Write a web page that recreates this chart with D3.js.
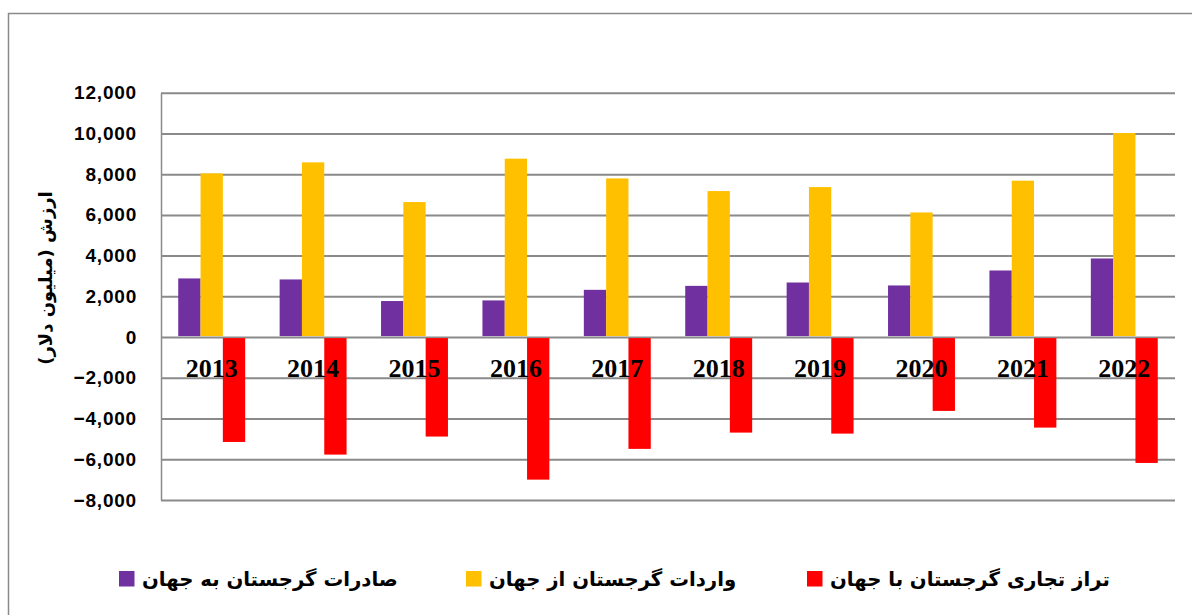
<!DOCTYPE html>
<html>
<head>
<meta charset="utf-8">
<script src="https://cdn.jsdelivr.net/npm/d3@7"></script>
<style>
  body { margin: 0; background: #fff; }
  svg { display: block; }
</style>
</head>
<body>
<div id="chart"></div>
<script>
// data (million dollars)
var years = ["2013", "2014", "2015", "2016", "2017", "2018", "2019", "2020", "2021", "2022"];
var exports_world = [2880, 2830, 1770, 1800, 2320, 2515, 2680, 2535, 3270, 3860];
var imports_world = [8040, 8580, 6630, 8760, 7790, 7170, 7365, 6120, 7680, 10020];
var balance_world = [-5150, -5770, -4885, -7000, -5490, -4690, -4740, -3625, -4445, -6180];
var y_ticks = [-8000, -6000, -4000, -2000, 0, 2000, 4000, 6000, 8000, 10000, 12000];

var series_names = ["صادرات گرجستان به جهان", "واردات گرجستان از جهان", "تراز تجاری گرجستان با جهان"];
var series_colors = ["#7030A0", "#FFC000", "#FF0000"];
var y_title = "ارزش (میلیون  دلار)";

var W = 1192, H = 615;
var margins = {left: 161, right: 17, top: 92.7, bottom: 115};
var width = W - margins.left - margins.right;
var height = H - margins.top - margins.bottom;

var svg = d3.select("#chart").append("svg")
    .attr("width", W)
    .attr("height", H);

// outer frame (only top and left are visible)
svg.append("path")
    .attr("d", "M8.5,620 V13.5 H1200")
    .attr("fill", "none")
    .attr("stroke", "#8a8a8a")
    .attr("stroke-width", 1.5);

var chart = svg.append("g")
    .attr("transform", `translate(${margins.left},${margins.top})`);

var x_scale = d3.scaleBand()
    .domain(years)
    .range([0, width])
    .paddingInner(0.34)
    .paddingOuter(0.17);

var x_inner = d3.scaleBand()
    .domain(d3.range(3))
    .range([0, x_scale.bandwidth()]);

var y_scale = d3.scaleLinear()
    .domain([-8000, 12000])
    .range([height, 0]);

// grid + y axis
var y_axis = chart.append("g")
    .call(d3.axisLeft(y_scale)
        .tickValues(y_ticks)
        .tickSizeInner(-width)
        .tickSizeOuter(0)
        .tickPadding(24)
        .tickFormat(d3.format(",")));

y_axis.select(".domain").attr("stroke", "#8a8a8a").attr("stroke-width", 1.5);
y_axis.selectAll(".tick line").attr("stroke", "#8a8a8a").attr("stroke-width", 2);
y_axis.selectAll(".tick text")
    .attr("fill", "#000")
    .style("font-family", "'Liberation Sans', Arial, sans-serif")
    .style("font-weight", "bold")
    .style("font-size", "19px")
    .style("letter-spacing", "0.8px");

// bars
var rows = years.map(function(y, i) {
    return [exports_world[i], imports_world[i], balance_world[i]];
});

var groups = chart.selectAll(".year")
    .data(years)
    .join("g")
    .attr("class", "year")
    .attr("transform", function(d) { return `translate(${x_scale(d)},0)`; });

groups.selectAll("rect")
    .data(function(d, i) { return rows[i].map(function(v, k) { return {k: k, v: v}; }); })
    .join("rect")
    .attr("x", function(d) { return x_inner(d.k); })
    .attr("width", x_inner.bandwidth())
    .attr("y", function(d) { return d.v >= 0 ? y_scale(d.v) : y_scale(0) + 1; })
    .attr("height", function(d) { return d.v >= 0 ? y_scale(0) - y_scale(d.v) - 1 : y_scale(d.v) - y_scale(0) - 1; })
    .attr("fill", function(d) { return series_colors[d.k]; });

// year labels next to the zero line
chart.selectAll(".year-label")
    .data(years)
    .join("text")
    .attr("class", "year-label")
    .attr("x", function(d) { return x_scale(d) + x_scale.bandwidth() / 2; })
    .attr("y", y_scale(0) + 39.5)
    .attr("text-anchor", "middle")
    .style("font-family", "'Liberation Serif', 'Times New Roman', serif")
    .style("font-weight", "bold")
    .style("font-size", "26px")
    .text(function(d) { return d; });

// y title
svg.append("text")
    .attr("transform", "translate(52,278) rotate(-90)")
    .attr("text-anchor", "middle")
    .style("font-family", "'DejaVu Sans', sans-serif")
    .style("font-weight", "bold")
    .style("font-size", "18px")
    .text(y_title);

// legend
var legend_x = [119, 466, 807];
var legend = svg.selectAll(".legend")
    .data(series_names)
    .join("g")
    .attr("class", "legend")
    .attr("transform", function(d, i) { return `translate(${legend_x[i]},571)`; });

legend.append("rect")
    .attr("width", 15.5)
    .attr("height", 15.5)
    .attr("fill", function(d, i) { return series_colors[i]; });

legend.append("text")
    .attr("x", 23)
    .attr("y", 15)
    .style("font-family", "'DejaVu Sans', sans-serif")
    .style("font-weight", "bold")
    .style("font-size", "19.7px")
    .text(function(d) { return d; });
</script>
</body>
</html>
